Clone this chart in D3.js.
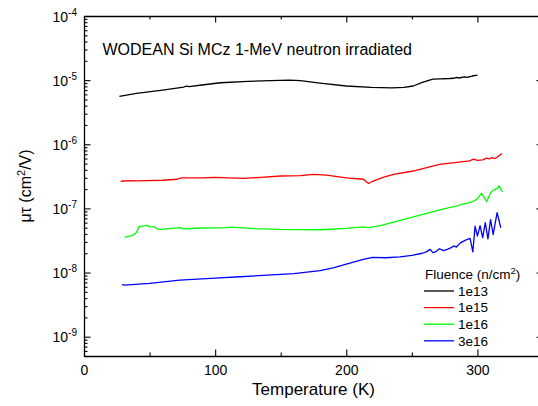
<!DOCTYPE html>
<html><head><meta charset="utf-8">
<script src="https://cdn.jsdelivr.net/npm/d3@7/dist/d3.min.js"></script>
<style>body{margin:0;background:#fff} svg{display:block}</style>
</head><body>
<svg id="c" width="538" height="406"></svg>
<script>
// ---- data (temperature in K, mu*tau in cm^2/V) ----
const seriesNames = ["1e13", "1e15", "1e16", "3e16"];

const temp1e13 = [27, 40, 60, 76, 78, 80, 90, 104, 125, 142, 157, 165, 180, 200, 219, 235, 244, 251, 258, 266, 272, 279, 282, 284, 286, 290, 292, 296, 300];
const mt1e13   = [5.6e-6, 6.2e-6, 7.0e-6, 7.8e-6, 8.1e-6, 7.9e-6, 8.4e-6, 9.1e-6, 9.6e-6, 9.8e-6, 1.0e-5, 9.8e-6, 9.0e-6, 8.1e-6, 7.7e-6, 7.6e-6, 7.7e-6, 8.1e-6, 9.2e-6, 1.04e-5, 1.05e-5, 1.06e-5, 1.07e-5, 1.1e-5, 1.08e-5, 1.12e-5, 1.1e-5, 1.16e-5, 1.2e-5];

const temp1e15 = [28, 35, 40, 48, 60, 71, 74, 90, 100, 110, 122, 135, 150, 165, 175, 185, 200, 213, 217, 220, 228, 236, 251, 271, 294, 297, 300, 304, 307, 309, 311, 313, 315, 318.6];
const mt1e15   = [2.65e-7, 2.72e-7, 2.68e-7, 2.72e-7, 2.75e-7, 2.85e-7, 3.0e-7, 3.0e-7, 3.05e-7, 3.0e-7, 2.95e-7, 3.05e-7, 3.2e-7, 3.25e-7, 3.4e-7, 3.3e-7, 3.0e-7, 2.85e-7, 2.45e-7, 2.65e-7, 3.05e-7, 3.4e-7, 3.83e-7, 4.87e-7, 5.5e-7, 5.85e-7, 5.6e-7, 5.7e-7, 6.1e-7, 5.9e-7, 6.2e-7, 6.0e-7, 6.25e-7, 7.2e-7];

const temp1e16 = [31, 37, 40, 42, 48, 50, 54, 56, 59, 65, 73, 76, 90, 109, 112, 130, 150, 180, 200, 213, 217, 226, 249, 272, 280, 284, 287, 292, 297, 299.5, 303, 305, 307, 310, 312, 315, 316.5, 319];
const mt1e16   = [3.55e-8, 3.8e-8, 4.2e-8, 5.2e-8, 5.45e-8, 5.2e-8, 5.15e-8, 4.75e-8, 4.7e-8, 4.85e-8, 5.0e-8, 4.8e-8, 4.95e-8, 5.0e-8, 5.1e-8, 4.85e-8, 4.7e-8, 4.65e-8, 4.9e-8, 5.15e-8, 5.0e-8, 5.4e-8, 7.2e-8, 9.6e-8, 1.05e-7, 1.08e-7, 1.15e-7, 1.2e-7, 1.3e-7, 1.38e-7, 1.72e-7, 1.5e-7, 1.27e-7, 1.76e-7, 1.93e-7, 2.03e-7, 2.25e-7, 1.8e-7];

const temp3e16 = [29, 31, 50, 73, 100, 119, 140, 160, 180, 190, 200, 213, 220, 230, 241, 250, 258, 261, 264, 266, 268, 271, 274, 277, 280, 282, 284, 287, 291, 294.4, 296.5, 298.2, 300, 302, 304, 306, 308, 310, 312, 315, 317.8];
const mt3e16   = [6.5e-9, 6.35e-9, 6.8e-9, 7.6e-9, 8.2e-9, 8.6e-9, 9.1e-9, 9.65e-9, 1.07e-8, 1.18e-8, 1.35e-8, 1.6e-8, 1.72e-8, 1.7e-8, 1.75e-8, 1.85e-8, 2.0e-8, 2.1e-8, 2.3e-8, 2.05e-8, 2.1e-8, 2.35e-8, 2.2e-8, 2.3e-8, 2.45e-8, 2.6e-8, 2.5e-8, 2.9e-8, 3.2e-8, 3.4e-8, 2.1e-8, 5.3e-8, 3.7e-8, 5.4e-8, 3.5e-8, 6.0e-8, 3.35e-8, 6.7e-8, 3.9e-8, 8.6e-8, 5.0e-8];

const xTickValues = [0, 100, 200, 300];
const xMinorValues = [50, 150, 250, 350];
const yDecadeExps = [-9, -8, -7, -6, -5, -4];
const xDomain = [0, 350];
const yDomain = [5e-10, 1e-4];
const titleText = "WODEAN Si MCz 1-MeV neutron irradiated";
const xTitle = "Temperature (K)";
const legendTitle = "Fluence (n/cm";

// ---- styles ----
const colors = ["#000000", "#ff0000", "#00ff00", "#0000ff"];
const FONT = "Arial, 'Liberation Sans', Helvetica, sans-serif";

const svg = d3.select("#c").style("font-family", FONT);
const L = 84, R = 543, T = 16, B = 356;
const x = d3.scaleLinear().domain(xDomain).range([L, R]);
const y = d3.scaleLog().domain(yDomain).range([B, T]);

const series = [
  {name: seriesNames[0], t: temp1e13, v: mt1e13},
  {name: seriesNames[1], t: temp1e15, v: mt1e15},
  {name: seriesNames[2], t: temp1e16, v: mt1e16},
  {name: seriesNames[3], t: temp3e16, v: mt3e16}
];

// clip
svg.append("defs").append("clipPath").attr("id", "clip")
  .append("rect").attr("x", L).attr("y", T).attr("width", R - L).attr("height", B - T);

// lines
const line = d3.line().x(d => x(d[0])).y(d => y(d[1]));
const gLines = svg.append("g").attr("clip-path", "url(#clip)");
series.forEach((s, i) => {
  const pts = s.t.map((t, k) => [t, s.v[k]]);
  gLines.append("path").datum(pts).attr("d", line)
    .attr("fill", "none").attr("stroke", colors[i]).attr("stroke-width", 1.3)
    .attr("stroke-linejoin", "round");
});

// minor y ticks
const yMinor = [];
yDecadeExps.concat([-10]).forEach(e => {
  for (let m = 2; m <= 9; m++) {
    const v = m * Math.pow(10, e);
    if (v >= yDomain[0] && v <= yDomain[1]) yMinor.push(v);
  }
});
const yMajor = yDecadeExps.map(e => Math.pow(10, e));

// axes
const axStyle = g => {
  g.selectAll(".domain").attr("stroke", "#000").attr("stroke-width", 1.3);
  g.selectAll(".tick line").attr("stroke", "#000").attr("stroke-width", 1.1);
};

// bottom
svg.append("g").attr("transform", `translate(0,${B})`)
  .call(d3.axisBottom(x).tickValues(xMinorValues).tickSize(-3.5).tickFormat(""))
  .call(axStyle).call(g => g.select(".domain").remove());
svg.append("g").attr("transform", `translate(0,${B})`)
  .call(d3.axisBottom(x).tickValues(xTickValues).tickSizeInner(-6.5).tickSizeOuter(0).tickPadding(9).tickFormat(d3.format("d")))
  .call(axStyle)
  .call(g => g.selectAll("text").attr("font-size", 14).attr("fill", "#000").attr("font-family", FONT));
// top
svg.append("g").attr("transform", `translate(0,${T})`)
  .call(d3.axisTop(x).tickValues(xMinorValues).tickSize(-3.5).tickFormat(""))
  .call(axStyle).call(g => g.select(".domain").remove());
svg.append("g").attr("transform", `translate(0,${T})`)
  .call(d3.axisTop(x).tickValues(xTickValues).tickSizeInner(-6.5).tickSizeOuter(0).tickFormat(""))
  .call(axStyle);
// left
svg.append("g").attr("transform", `translate(${L},0)`)
  .call(d3.axisLeft(y).tickValues(yMinor).tickSize(-3.5).tickFormat(""))
  .call(axStyle).call(g => g.select(".domain").remove());
const gl = svg.append("g").attr("transform", `translate(${L},0)`)
  .call(d3.axisLeft(y).tickValues(yMajor).tickSizeInner(-6.5).tickSizeOuter(0).tickFormat(""))
  .call(axStyle);
gl.selectAll(".tick").each(function(d) {
  const e = Math.round(Math.log10(d));
  const t = d3.select(this).append("text")
    .attr("x", -7).attr("y", 5).attr("text-anchor", "end")
    .attr("fill", "#000").attr("font-size", 14).attr("font-family", FONT);
  t.append("tspan").text("10");
  t.append("tspan").attr("font-size", 10).attr("dy", -6).text(String(e));
});
// right
svg.append("g").attr("transform", `translate(${R},0)`)
  .call(d3.axisRight(y).tickValues(yMinor).tickSize(-3.5).tickFormat(""))
  .call(axStyle).call(g => g.select(".domain").remove());
svg.append("g").attr("transform", `translate(${R},0)`)
  .call(d3.axisRight(y).tickValues(yMajor).tickSizeInner(-6.5).tickSizeOuter(0).tickFormat(""))
  .call(axStyle);

// titles
svg.append("text").attr("x", 102.5).attr("y", 55).attr("font-size", 16).attr("fill", "#000").text(titleText);
svg.append("text").attr("x", (L + R) / 2).attr("y", 395).attr("text-anchor", "middle")
  .attr("font-size", 17).attr("fill", "#000").text(xTitle);
const yt = svg.append("text").attr("transform", `translate(31,${(T + B) / 2}) rotate(-90)`)
  .attr("text-anchor", "middle").attr("font-size", 16).attr("fill", "#000");
yt.append("tspan").text("\u03bc\u03c4 (cm");
yt.append("tspan").attr("font-size", 11).attr("dy", -6).text("2");
yt.append("tspan").attr("dy", 6).text("/V)");

// legend
const lg = svg.append("g");
const lt = lg.append("text").attr("x", 425).attr("y", 279).attr("font-size", 13.5).attr("fill", "#000");
lt.append("tspan").text(legendTitle);
lt.append("tspan").attr("font-size", 9.5).attr("dy", -5).text("2");
lt.append("tspan").attr("dy", 5).text(")");
series.forEach((s, i) => {
  const yy = 291 + i * 16.6;
  lg.append("line").attr("x1", 424).attr("x2", 454).attr("y1", yy).attr("y2", yy)
    .attr("stroke", colors[i]).attr("stroke-width", 1.3);
  lg.append("text").attr("x", 458).attr("y", yy + 4.7).attr("font-size", 13.5).attr("fill", "#000").text(s.name);
});
</script>
</body></html>
